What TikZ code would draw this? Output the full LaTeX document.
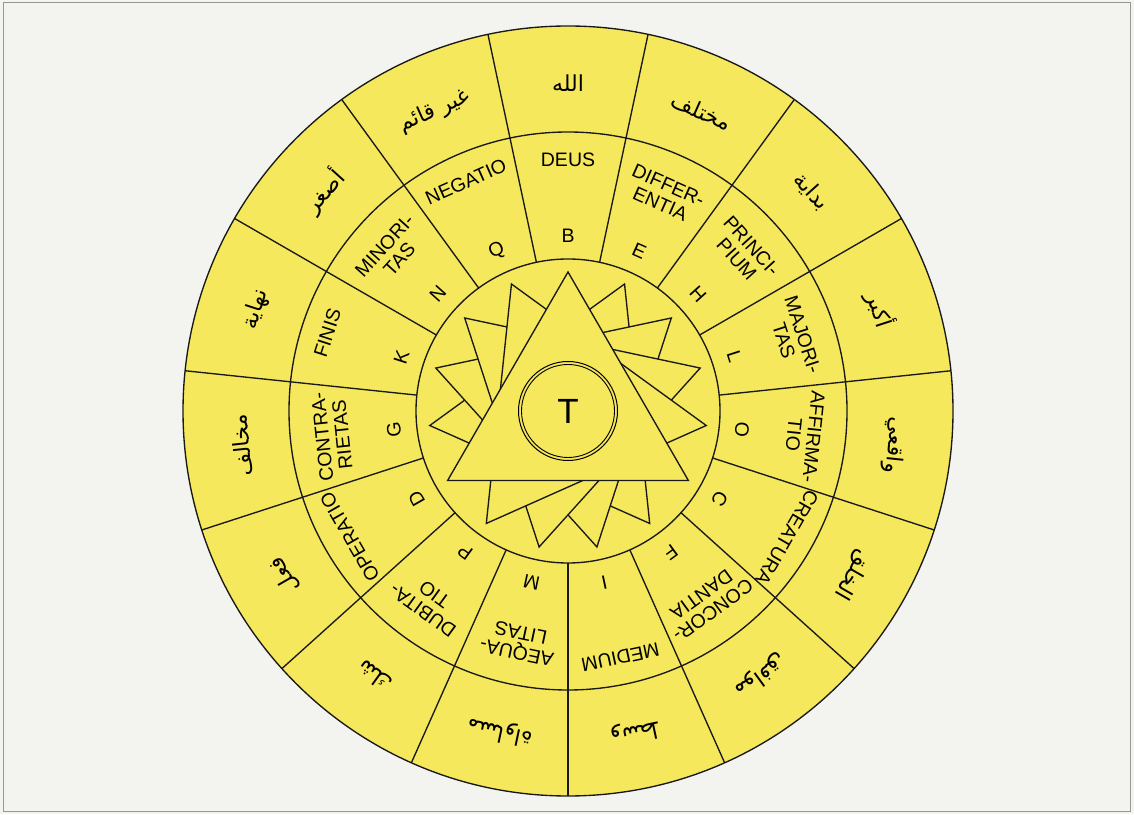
\documentclass[tikz,border=0pt]{standalone}
\usepackage{fontspec}
\setmainfont{Liberation Sans}
\newfontfamily\arabicfont[Script=Arabic]{DejaVu Sans}
\TeXXeTstate=1
\definecolor{fillyel}{RGB}{246,232,92}
\definecolor{bgpaper}{RGB}{243,244,239}
\definecolor{framegray}{RGB}{150,150,150}
\begin{document}
\begin{tikzpicture}[x=1pt,y=1pt,
  ln/.style={line width=1.35pt, draw=black!90},
  lat/.style={font=\fontsize{19.5}{20}\selectfont, align=center, inner sep=0pt},
  letr/.style={font=\fontsize{19.5}{20}\selectfont, inner sep=0pt},
  arb/.style={font=\arabicfont\fontsize{22}{24}\selectfont, inner sep=0pt}]
\useasboundingbox (0,0) rectangle (1134,814);
\fill[bgpaper] (0,0) rectangle (1134,814);
\draw[framegray, line width=1pt] (3,3) rectangle (1130,811);
\begin{scope}[shift={(568,403)}]
  \draw[ln, fill=fillyel] (0,0) circle (385);
  \draw[ln] (0,0) circle (279);
  \draw[ln] (0,0) circle (152);
  \foreach \a in {6,30,...,342} \draw[ln] (\a:152) -- (\a:385);
  \foreach \k in {4,3,2,1,0}
    \draw[ln, fill=fillyel] (90+24*\k:139) -- (210+24*\k:139) -- (330+24*\k:139) -- cycle;
  \draw[line width=1pt, fill=fillyel] (0,0) circle (49.5);
  \draw[line width=0.9pt] (0,0) circle (46.5);
  \node[font=\fontsize{35}{36}\selectfont, inner sep=0pt] (T) at (0,0) {T};
  \foreach \ang/\txt/\rr [count=\i] in {
      90/DEUS/251, 66/{DIFFER-\\ENTIA}/237, 42/{PRINCI-\\PIUM}/237,
      18/{MAJORI-\\TAS}/237, -6/{AFFIRMA-\\TIO}/237, -30/CREATURA/253,
      -54/{CONCOR-\\DANTIA}/237, -78/MEDIUM/252, -102/{AEQUA-\\LITAS}/237,
      -126/{DUBITA-\\TIO}/237, -150/OPERATIO/252, -174/{CONTRA-\\RIETAS}/237,
      162/FINIS/253, 138/{MINORI-\\TAS}/237, 114/NEGATIO/251}
    \node[lat, rotate=\ang-90] (lat\i) at (\ang:\rr) {\txt};
  \foreach \ang/\l [count=\i] in {90/B, 66/E, 42/H, 18/L, -6/O, -30/C, -54/F,
      -78/I, -102/M, -126/P, -150/D, -174/G, 162/K, 138/N, 114/Q}
    \node[letr, rotate=\ang-90] (let\i) at (\ang:175) {\l};
  \foreach \ang/\txt [count=\i] in {90/الله, 66/مختلف, 42/بداية, 18/أكبر,
      -6/واقعي, -30/الخلق, -54/موافق, -78/وسط, -102/مساواة, -126/شك,
      -150/فعل, -174/مخالف, 162/نهاية, 138/أصغر, 114/غير قائم}
    \node[arb, rotate=\ang-90] (ar\i) at (\ang:328) {\beginR\txt\endR};
\end{scope}
\end{tikzpicture}
\end{document}
